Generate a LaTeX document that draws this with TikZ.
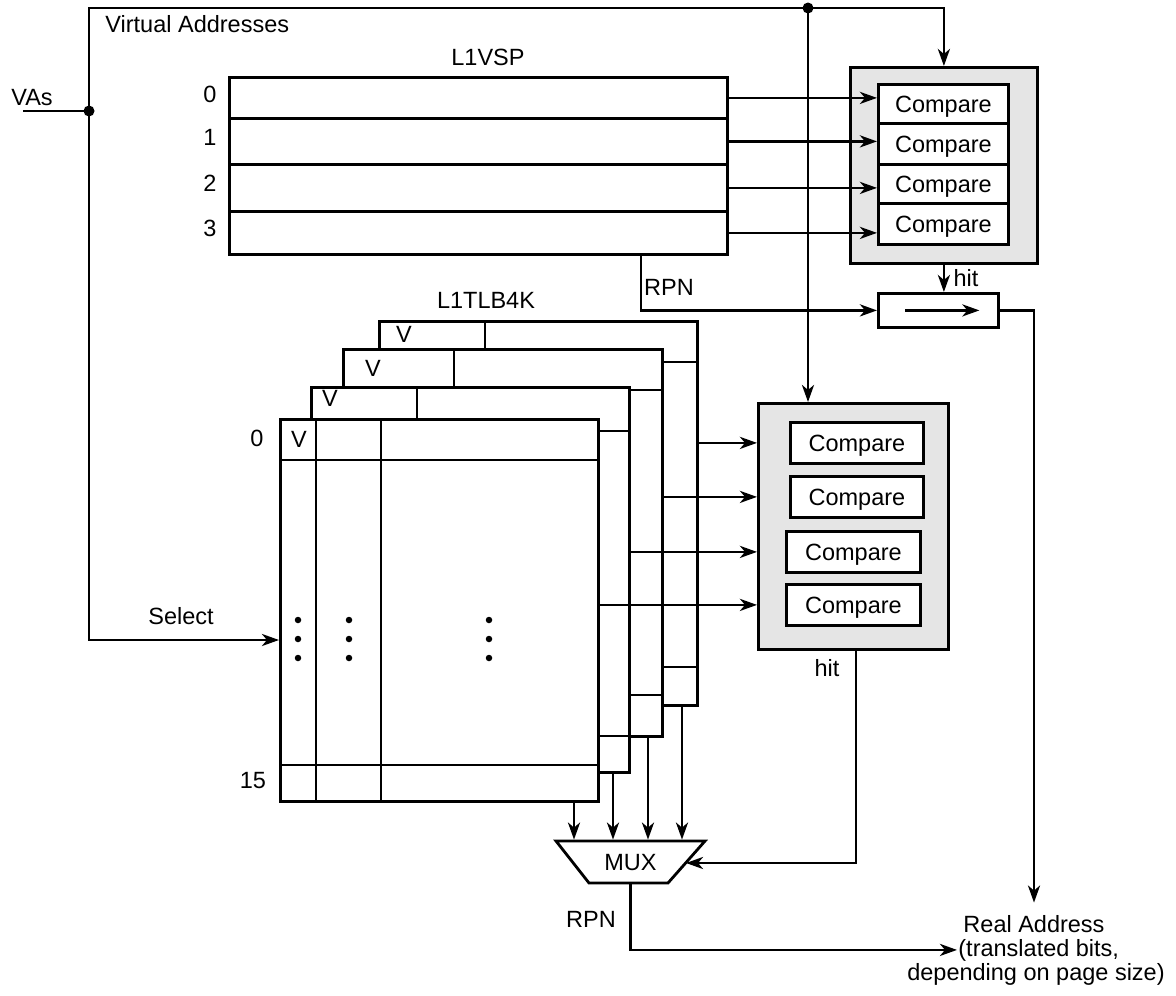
\documentclass[tikz,border=0pt]{standalone}
\usepackage{fontspec}
\setmainfont{Liberation Sans}
\usetikzlibrary{arrows.meta}
\definecolor{grayfill}{RGB}{229,229,229}
\begin{document}
\begin{tikzpicture}[x=1pt,y=-1pt,line width=2.8pt,
  every node/.style={font=\fontsize{23.5}{26}\selectfont},
  arr/.style={-{Stealth[length=17pt,width=12pt,inset=5pt]}},
  cell/.style={draw,fill=white,inner sep=0pt,anchor=north west},
  graybox/.style={draw,fill=grayfill,inner sep=0pt,anchor=north west},
  cmpbox/.style={draw,fill=white,inner sep=0pt,anchor=north west,text height=17pt,text depth=0pt},
  lbl/.style={inner sep=0pt,anchor=base},
  dot/.style={circle,fill,inner sep=0pt,minimum size=11pt},
  smalldot/.style={circle,fill,inner sep=0pt,minimum size=6.5pt}]

\useasboundingbox (0,0) rectangle (1176,996);

% ---------- L1VSP ----------
\node[cell,minimum width=498pt,minimum height=41pt] (r0) at (228,76) {};
\node[cell,minimum width=498pt,minimum height=46pt] (r1) at (228,117) {};
\node[cell,minimum width=498pt,minimum height=47pt] (r2) at (228,163) {};
\node[cell,minimum width=498pt,minimum height=43pt] (r3) at (228,210) {};
\node[lbl] (vsp) at (488,65) {L1VSP};
\node[lbl] (n0) at (210,102) {0};
\node[lbl] (n1) at (210,145) {1};
\node[lbl] (n2) at (210,191) {2};
\node[lbl] (n3) at (210,236) {3};

% ---------- compare block 1 ----------
\node[graybox,minimum width=187pt,minimum height=196pt] (g1) at (849,66) {};
\node[cmpbox,minimum width=130pt,minimum height=39pt] (c1) at (877,83) {Compare};
\node[cmpbox,minimum width=130pt,minimum height=41pt] (c2) at (877,122) {Compare};
\node[cmpbox,minimum width=130pt,minimum height=39pt] (c3) at (877,163) {Compare};
\node[cmpbox,minimum width=130pt,minimum height=41pt] (c4) at (877,202) {Compare};
\node[cell,minimum width=120pt,minimum height=34pt] (reg) at (877,292) {};

% ---------- compare block 2 ----------
\node[graybox,minimum width=190pt,minimum height=246pt] (g2) at (757,402) {};
\node[cmpbox,minimum width=133pt,minimum height=41pt] (c5) at (789,421) {Compare};
\node[cmpbox,minimum width=133pt,minimum height=41pt] (c6) at (789,475) {Compare};
\node[cmpbox,minimum width=134pt,minimum height=41pt] (c7) at (785,530) {Compare};
\node[cmpbox,minimum width=134pt,minimum height=41pt] (c8) at (785,583) {Compare};

% ---------- L1TLB4K layers (back to front) ----------
\node[lbl] (tlb) at (486,308) {L1TLB4K};
\node[cell,minimum width=318pt,minimum height=384pt] (L4) at (378,320) {};
\draw (378,362) -- (696,362) (485,320) -- (485,362) (378,667) -- (696,667);
\node[lbl] (v4) at (404,342) {V};
\node[cell,minimum width=319pt,minimum height=387pt] (L3) at (342,348) {};
\draw (342,390) -- (661,390) (454,348) -- (454,390) (342,695) -- (661,695);
\node[lbl] (v3) at (373,376) {V};
\node[cell,minimum width=318pt,minimum height=385pt] (L2) at (310,386) {};
\draw (310,431) -- (628,431) (417,386) -- (417,431) (310,736) -- (628,736);
\node[lbl] (v2) at (330,406) {V};
\node[cell,minimum width=318pt,minimum height=382pt] (L1) at (279,418) {};
\draw (279,460) -- (597,460) (279,765) -- (597,765) (316,418) -- (316,800) (381,418) -- (381,800);
\node[lbl] (v1) at (299,447) {V};
\node[lbl] (t0) at (257,446) {0};
\node[lbl] (t15) at (253,788) {15};
\foreach \x in {298,349,489}{
  \foreach \y in {620,639,658}{
    \node[smalldot] at (\x,\y) {};
  }
}

% ---------- MUX ----------
\coordinate (m1) at (556,841);
\coordinate (m2) at (705,841);
\coordinate (m3) at (668,883);
\coordinate (m4) at (589,883);
\draw[fill=white] (m1) -- (m2) -- (m3) -- (m4) -- cycle;
\node[inner sep=0pt,minimum width=149pt,minimum height=42pt,text height=17pt,text depth=0pt] (mux) at (630.5,862) {MUX};

% ---------- Real Address ----------
\node[lbl] (ra) at (1034,932) {Real Address};
\node[lbl,anchor=base west] (tb) at (957,956) {(translated bits,};
\node[lbl] (dp) at (1036,980) {depending on page size)};

% ---------- wires ----------
\node[dot] (d1) at (89,111) {};
\node[dot] (d2) at (808,8) {};
\coordinate (vin) at (23,111);
\node[lbl] (vas) at (32,105) {VAs};
\node[lbl,anchor=base west] (va) at (104,32) {Virtual Addresses};
\draw (vin) -- (d1.center);
\draw (d1.center) |- (d2.center);
\draw[arr] (d2.center) -| (g1.north);
\draw[arr] (d2.center) -- (d2.center |- g2.north);

\coordinate (sel) at (0,640);
\draw[arr] (d1.center) |- (sel -| L1.west);
\node[lbl] (sl) at (181,624) {Select};

\draw[arr] (r0.east) -- (r0.east -| c1.west);
\draw[arr] (r1.east) -- (r1.east -| c2.west);
\draw[arr] (r2.east) -- (r2.east -| c3.west);
\draw[arr] (r3.east) -- (r3.east -| c4.west);

\coordinate (rp) at (641,0);
\draw[arr] (r3.south -| rp) |- (reg.west);
\node[lbl] (rpn1) at (669,295) {RPN};
\draw[arr] (g1.south) -- (g1.south |- reg.north);
\node[lbl] (hit1) at (966,286) {hit};
\draw[arr] ([xshift=-33pt]reg.center) -- ([xshift=41pt]reg.center);
\draw[arr] (reg.east) -| ([yshift=11pt]ra.north);

\draw[arr] (L4.east |- c5.west) -- (g2.west |- c5.west);
\draw[arr] (L3.east |- c6.west) -- (g2.west |- c6.west);
\draw[arr] (L2.east |- c7.west) -- (g2.west |- c7.west);
\draw[arr] (L1.east |- c8.west) -- (g2.west |- c8.west);

\coordinate (o1) at (574,0);
\coordinate (o2) at (613,0);
\coordinate (o3) at (648,0);
\coordinate (o4) at (682,0);
\draw[arr] (L1.south -| o1) -- (mux.north -| o1);
\draw[arr] (L2.south -| o2) -- (mux.north -| o2);
\draw[arr] (L3.south -| o3) -- (mux.north -| o3);
\draw[arr] (L4.south -| o4) -- (mux.north -| o4);

\coordinate (hx) at (856,0);
\coordinate (mr) at (686,863);
\draw[arr] (g2.south -| hx) |- (mr);
\node[lbl] (hit2) at (827,676) {hit};

\draw[arr] (mux.south) |- (tb.west);
\node[lbl] (rpn2) at (591,927) {RPN};
\end{tikzpicture}
\end{document}
